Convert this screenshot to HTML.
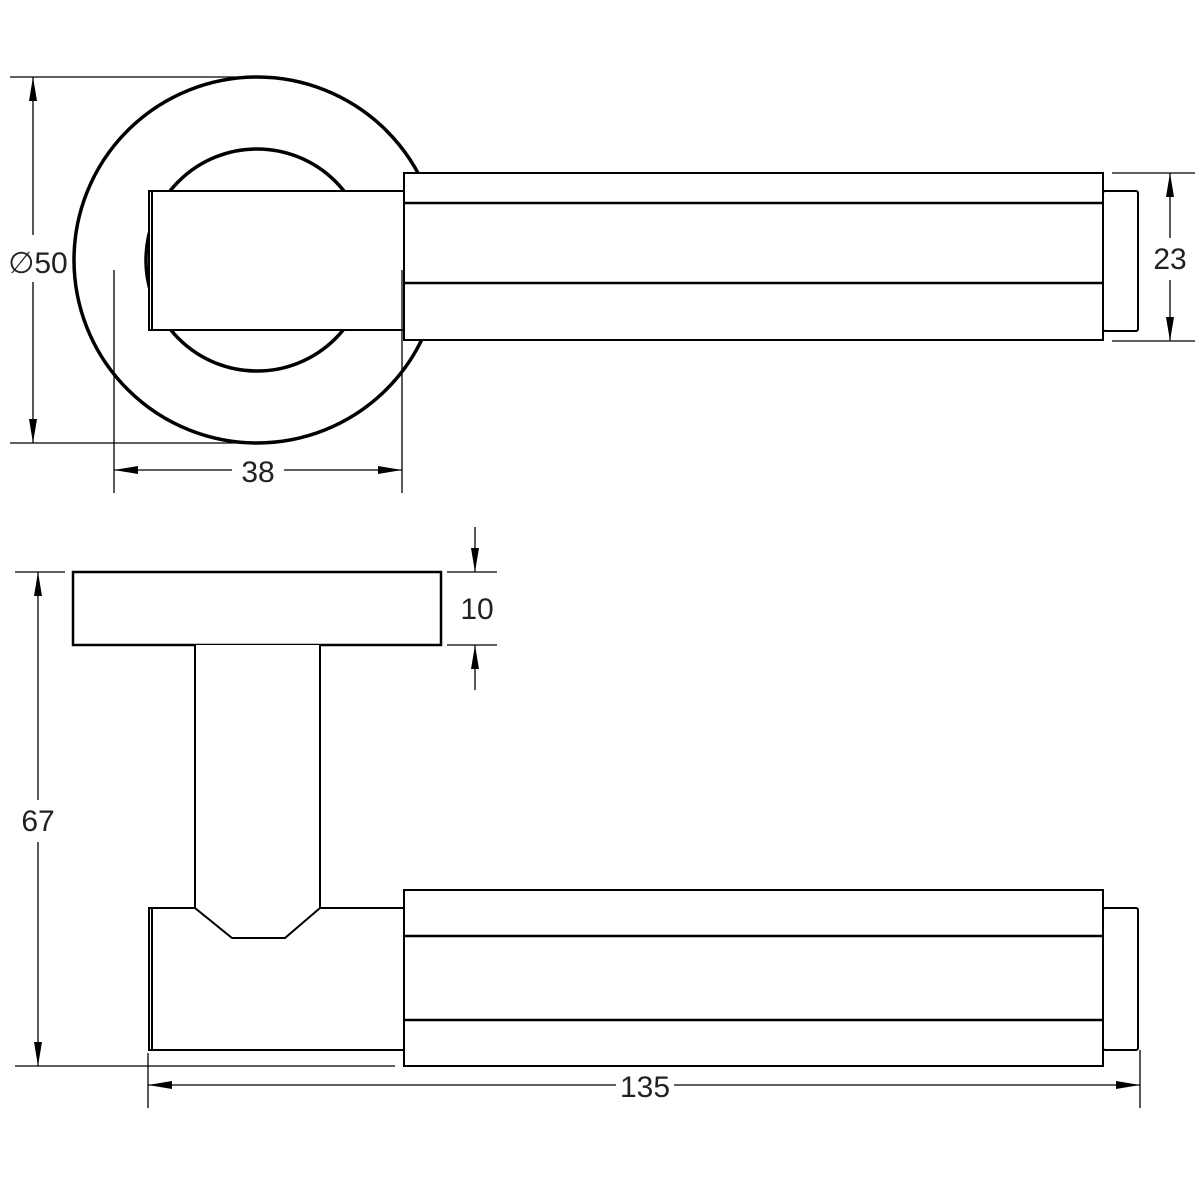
<!DOCTYPE html>
<html><head><meta charset="utf-8"><style>html,body{margin:0;padding:0;background:#fff}svg{display:block}</style></head>
<body>
<svg width="1200" height="1200" viewBox="0 0 1200 1200" xmlns="http://www.w3.org/2000/svg" font-family="'Liberation Sans', sans-serif">
<defs>
<marker id="a" viewBox="0 0 24 8" refX="24" refY="4" markerWidth="24" markerHeight="8" markerUnits="userSpaceOnUse" orient="auto-start-reverse" preserveAspectRatio="none"><path d="M0,0 L24,4 L0,8 z" fill="#000"/></marker>
</defs>
<g fill="#fff" stroke="#000">
<circle cx="257" cy="260" r="183" stroke-width="3.5"/>
<circle cx="257" cy="260" r="111" stroke-width="3.5"/>
<rect x="149" y="191" width="255" height="139" stroke-width="2"/>
<line x1="152" y1="191" x2="152" y2="330" stroke-width="2"/>
<rect x="1103" y="191" width="35" height="140" stroke-width="2" rx="2"/>
<rect x="404" y="173" width="699" height="167" stroke-width="2"/>
<line x1="404" y1="203" x2="1103" y2="203" stroke-width="2.5"/>
<line x1="404" y1="283" x2="1103" y2="283" stroke-width="2.5"/>
<rect x="73" y="572" width="368" height="73" stroke-width="2.5"/>
<rect x="149" y="908" width="255" height="142" stroke-width="2"/>
<line x1="152" y1="908" x2="152" y2="1050" stroke-width="2"/>
<path d="M195,645 L195,908 L232,938 L285,938 L320,908 L320,645" stroke-width="2"/>
<rect x="1103" y="908" width="35" height="142" stroke-width="2" rx="2"/>
<rect x="404" y="890" width="699" height="176" stroke-width="2"/>
<line x1="404" y1="936" x2="1103" y2="936" stroke-width="2.5"/>
<line x1="404" y1="1020" x2="1103" y2="1020" stroke-width="2.5"/>
</g>
<g stroke="#000" stroke-width="1.3" fill="none">
<line x1="10" y1="77" x2="257" y2="77"/><line x1="10" y1="443" x2="257" y2="443"/>
<line x1="33" y1="235" x2="33" y2="77" marker-end="url(#a)"/>
<line x1="33" y1="282" x2="33" y2="443" marker-end="url(#a)"/>
<line x1="114" y1="270" x2="114" y2="493"/><line x1="402" y1="270" x2="402" y2="493"/>
<line x1="232" y1="470" x2="114" y2="470" marker-end="url(#a)"/>
<line x1="284" y1="470" x2="402" y2="470" marker-end="url(#a)"/>
<line x1="1112" y1="173" x2="1195" y2="173"/><line x1="1112" y1="341" x2="1195" y2="341"/>
<line x1="1170" y1="238" x2="1170" y2="173" marker-end="url(#a)"/>
<line x1="1170" y1="280" x2="1170" y2="341" marker-end="url(#a)"/>
<line x1="447" y1="572" x2="497" y2="572"/><line x1="447" y1="645" x2="497" y2="645"/>
<line x1="475" y1="527" x2="475" y2="572" marker-end="url(#a)"/>
<line x1="475" y1="690" x2="475" y2="645" marker-end="url(#a)"/>
<line x1="15" y1="572" x2="65" y2="572"/><line x1="15" y1="1066" x2="395" y2="1066"/>
<line x1="38" y1="800" x2="38" y2="572" marker-end="url(#a)"/>
<line x1="38" y1="842" x2="38" y2="1066" marker-end="url(#a)"/>
<line x1="148" y1="1053" x2="148" y2="1108"/><line x1="1140" y1="1050" x2="1140" y2="1108"/>
<line x1="616" y1="1085" x2="148" y2="1085" marker-end="url(#a)"/>
<line x1="674" y1="1085" x2="1140" y2="1085" marker-end="url(#a)"/>
</g>
<g font-size="30" fill="#222" text-anchor="middle">
<text x="38" y="273">∅50</text>
<text x="258" y="482">38</text>
<text x="1170" y="269">23</text>
<text x="477" y="619">10</text>
<text x="38" y="831">67</text>
<text x="645" y="1097">135</text>
</g>
</svg>
</body></html>
